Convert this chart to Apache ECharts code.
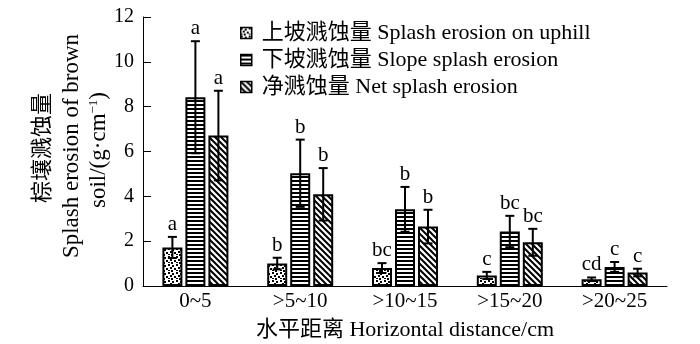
<!DOCTYPE html>
<html>
<head>
<meta charset="utf-8">
<script src="https://cdn.jsdelivr.net/npm/echarts@6/dist/echarts.min.js"></script>
<style>
  html, body { margin: 0; padding: 0; background: #fff; }
  #main { width: 700px; height: 344px; }
</style>
</head>
<body>
<div id="main"></div>
<script>
var categories = ['0~5', '>5~10', '>10~15', '>15~20', '>20~25'];
var seriesNames = ['上坡溅蚀量 Splash erosion on uphill', '下坡溅蚀量 Slope splash erosion', '净溅蚀量 Net splash erosion'];
var uphill = [1.72, 1.0, 0.8, 0.47, 0.3];
var slope = [8.42, 5.03, 3.42, 2.43, 0.85];
var net = [6.71, 4.09, 2.65, 1.95, 0.6];
var uphillErr = [0.47, 0.26, 0.22, 0.16, 0.08];
var slopeErr = [2.5, 1.5, 1.0, 0.7, 0.22];
var netErr = [2.0, 1.17, 0.75, 0.6, 0.17];
var uphillSig = ['a', 'b', 'bc', 'c', 'cd'];
var slopeSig = ['a', 'b', 'b', 'bc', 'c'];
var netSig = ['a', 'b', 'b', 'bc', 'c'];

var serif = "'Liberation Serif', 'Noto Sans CJK SC', serif";

// fill patterns
function tile(w, h, draw) {
    var c = document.createElement('canvas');
    c.width = w; c.height = h;
    var ctx = c.getContext('2d');
    ctx.fillStyle = '#fff';
    ctx.fillRect(0, 0, w, h);
    ctx.fillStyle = '#000';
    ctx.strokeStyle = '#000';
    draw(ctx);
    return { image: c, repeat: 'repeat' };
}
var dots = tile(8, 8, function (ctx) {
    ctx.fillRect(0, 0, 2, 2);
    ctx.fillRect(4, 1, 2, 2);
    ctx.fillRect(2, 3, 2, 2);
    ctx.fillRect(6, 4, 2, 2);
    ctx.fillRect(0, 6, 2, 1);
    ctx.fillRect(3, 6, 2, 2);
});
var hlines = tile(4, 4, function (ctx) {
    ctx.fillRect(0, 0, 4, 2);
});
var diag = tile(6, 6, function (ctx) {
    ctx.lineWidth = 2;
    ctx.beginPath();
    ctx.moveTo(-1, -1); ctx.lineTo(7, 7);
    ctx.moveTo(-7, -1); ctx.lineTo(1, 7);
    ctx.moveTo(5, -1); ctx.lineTo(13, 7);
    ctx.stroke();
});

var myChart = echarts.init(document.getElementById('main'));

function errSeries(vals, errs, sigs, shift) {
    var data = [];
    for (var i = 0; i < vals.length; i++) {
        data.push([i, vals[i], errs[i], sigs[i]]);
    }
    return {
        type: 'custom',
        z: 10,
        silent: true,
        data: data,
        renderItem: function (params, api) {
            var i = api.value(0), v = api.value(1), e = api.value(2);
            var sig = data[params.dataIndex][3];
            var top = api.coord([i, v + e]);
            var bot = api.coord([i, v - e]);
            var x = top[0] + shift;
            var cap = 4.5;
            var st = { stroke: '#000', lineWidth: 2 };
            return {
                type: 'group',
                children: [
                    { type: 'line', shape: { x1: x, y1: top[1], x2: x, y2: bot[1] }, style: st },
                    { type: 'line', shape: { x1: x - cap, y1: top[1], x2: x + cap, y2: top[1] }, style: st },
                    { type: 'line', shape: { x1: x - cap, y1: bot[1], x2: x + cap, y2: bot[1] }, style: st },
                    { type: 'text', x: x, y: top[1] - 2, style: {
                        text: sig, fill: '#000', font: '21px ' + serif,
                        textAlign: 'center', textVerticalAlign: 'bottom' } }
                ]
            };
        }
    };
}

var barStyle = function (fill) {
    return { color: fill, borderColor: '#000', borderWidth: 2 };
};

var option = {
    animation: false,
    textStyle: { fontFamily: serif, color: '#000' },
    grid: { left: 143, right: 33, top: 17, bottom: 58, outerBoundsMode: 'none' },
    legend: {
        orient: 'vertical',
        left: 235,
        top: 17,
        itemWidth: 11,
        itemHeight: 11,
        itemGap: 5,
        icon: 'rect',
        itemStyle: { borderColor: '#000', borderWidth: 1.5 },
        textStyle: { fontFamily: serif, fontSize: 22, color: '#000', padding: [0, 0, 0, 5] },
        data: seriesNames
    },
    xAxis: {
        type: 'category',
        data: categories,
        name: '水平距离 Horizontal distance/cm',
        nameLocation: 'middle',
        nameGap: 33,
        nameTextStyle: { fontFamily: serif, fontSize: 22, color: '#000' },
        axisLine: { lineStyle: { color: '#000', width: 1 } },
        axisTick: { inside: true, length: 7, lineStyle: { color: '#000' } },
        axisLabel: { fontFamily: serif, fontSize: 21, color: '#000', margin: 5 }
    },
    yAxis: {
        type: 'value',
        min: 0,
        max: 12,
        interval: 2,
        axisLine: { show: true, lineStyle: { color: '#000', width: 1 } },
        axisTick: { show: true, inside: true, length: 8, lineStyle: { color: '#000' } },
        splitLine: { show: false },
        axisLabel: { fontFamily: serif, fontSize: 20, color: '#000', margin: 9 }
    },
    graphic: [
        { type: 'text', x: 43, y: 148, rotation: Math.PI / 2,
          style: { text: '棕壤溅蚀量', font: '22px ' + serif, fill: '#000',
                   textAlign: 'center', textVerticalAlign: 'middle' } },
        { type: 'text', x: 72, y: 146, rotation: Math.PI / 2,
          style: { text: 'Splash erosion of brown', font: '23px ' + serif, fill: '#000',
                   textAlign: 'center', textVerticalAlign: 'middle' } },
        { type: 'text', x: 99, y: 150, rotation: Math.PI / 2,
          style: { text: 'soil/(g·cm{sup|−1})', font: '23px ' + serif, fill: '#000',
                   textAlign: 'center', textVerticalAlign: 'middle',
                   rich: { sup: { fontSize: 13, fontFamily: serif, padding: [0, 0, 10, 0] } } } }
    ],
    series: [
        { name: seriesNames[0], type: 'bar', barWidth: 20, barGap: '15%', data: uphill, itemStyle: barStyle(dots) },
        { name: seriesNames[1], type: 'bar', barWidth: 20, barGap: '15%', data: slope, itemStyle: barStyle(hlines) },
        { name: seriesNames[2], type: 'bar', barWidth: 20, barGap: '15%', data: net, itemStyle: barStyle(diag) },
        errSeries(uphill, uphillErr, uphillSig, -23),
        errSeries(slope, slopeErr, slopeSig, 0),
        errSeries(net, netErr, netSig, 23)
    ]
};

option && myChart.setOption(option);
</script>
</body>
</html>
